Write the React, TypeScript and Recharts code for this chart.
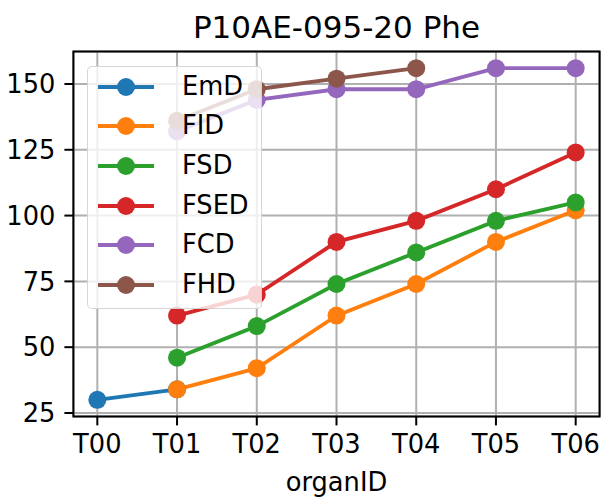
import React from 'react';
import { LineChart, Line, XAxis, YAxis, CartesianGrid, Legend, ReferenceArea, Label } from 'recharts';

const title = 'P10AE-095-20 Phe';
const xLabel = 'organID';
const categories = ['T00', 'T01', 'T02', 'T03', 'T04', 'T05', 'T06'];
const yTicks = [25, 50, 75, 100, 125, 150];

const emD = [30, 34, null, null, null, null, null];
const fID = [null, 34, 42, 62, 74, 90, 102];
const fSD = [null, 46, 58, 74, 86, 98, 105];
const fSED = [null, 62, 70, 90, 98, 110, 124];
const fCD = [null, 132, 144, 148, 148, 156, 156];
const fHD = [null, 136, 148, 152, 156, null, null];

const seriesNames = ['EmD', 'FID', 'FSD', 'FSED', 'FCD', 'FHD'];
const seriesValues = [emD, fID, fSD, fSED, fCD, fHD];
const seriesColors = ['#1f77b4', '#ff7f0e', '#2ca02c', '#d62728', '#9467bd', '#8c564b'];

const data = categories.map((c, i) => {
  const row: Record<string, any> = { x: i, cat: c };
  seriesNames.forEach((n, k) => {
    row[n] = seriesValues[k][i];
  });
  return row;
});

const FONT = '"DejaVu Sans", sans-serif';
const yMin = 23.7;
const yMax = 162.3;

const LegendBox = () => (
  <div
    style={{
      width: 175,
      height: 243,
      boxSizing: 'border-box',
      background: 'rgba(255,255,255,0.8)',
      border: '1.5px solid rgba(204,204,204,0.8)',
      borderRadius: 5,
      position: 'relative',
    }}
  >
    {seriesNames.map((n, k) => (
      <div key={n} style={{ position: 'absolute', left: 0, top: 19.5 + k * 39.7 - 20, height: 40, width: 175 }}>
        <svg width={70} height={40} style={{ position: 'absolute', left: 9, top: 0 }}>
          <line x1={1} y1={20} x2={57} y2={20} stroke={seriesColors[k]} strokeWidth={3.85} />
          <circle cx={29} cy={20} r={9} fill={seriesColors[k]} />
        </svg>
        <span
          style={{
            position: 'absolute',
            left: 94,
            top: 20,
            transform: 'translateY(-50%)',
            fontFamily: FONT,
            fontSize: 25.7,
            lineHeight: 1,
            color: '#000',
            whiteSpace: 'nowrap',
          }}
        >
          {n}
        </span>
      </div>
    ))}
  </div>
);

export default function App() {
  return (
    <div style={{ position: 'absolute', left: 0, top: 0, width: 611, height: 502, background: '#fff' }}>
      <svg width={611} height={50} style={{ position: 'absolute', left: 0, top: 0 }}>
        <text x={336.5} y={37.5} textAnchor="middle" fontFamily={FONT} fontSize={31} fill="#000">
          {title}
        </text>
      </svg>
      <div style={{ position: 'absolute', left: 0, top: 0 }}>
        <LineChart width={611} height={502} data={data} margin={{ top: 51.6, right: 11.4, left: 0, bottom: 0 }}>
          <CartesianGrid stroke="#b0b0b0" strokeWidth={2} />
          <XAxis
            dataKey="x"
            type="number"
            domain={[-0.3, 6.3]}
            ticks={[0, 1, 2, 3, 4, 5, 6]}
            tickFormatter={(v: number) => categories[v]}
            height={85.6}
            axisLine={false}
            tickSize={9}
            tickMargin={9}
            tickLine={{ stroke: '#000', strokeWidth: 2 }}
            tick={{ fill: '#000', fontFamily: FONT, fontSize: 25.7 }}
            interval={0}
          >
            <Label
              content={(props: any) => {
                const vb = props.viewBox || {};
                return (
                  <text
                    x={vb.x + vb.width / 2}
                    y={vb.y + 75}
                    textAnchor="middle"
                    fontFamily={FONT}
                    fontSize={25.7}
                    fill="#000"
                  >
                    {xLabel}
                  </text>
                );
              }}
            />
          </XAxis>
          <YAxis
            type="number"
            domain={[yMin, yMax]}
            ticks={yTicks}
            width={73.4}
            axisLine={false}
            tickSize={9}
            tickMargin={9}
            tickLine={{ stroke: '#000', strokeWidth: 2 }}
            tick={{ fill: '#000', fontFamily: FONT, fontSize: 25.7 }}
            interval={0}
          />
          {seriesNames.map((n, k) => (
            <Line
              key={n}
              dataKey={n}
              name={n}
              type="linear"
              stroke={seriesColors[k]}
              strokeWidth={3.85}
              dot={{ r: 9, fill: seriesColors[k], stroke: seriesColors[k], strokeWidth: 0 }}
              activeDot={false}
              isAnimationActive={false}
              connectNulls={false}
            />
          ))}
          <ReferenceArea
            x1={-0.3}
            x2={6.3}
            y1={yMin}
            y2={yMax}
            fill="none"
            fillOpacity={0}
            stroke="#000"
            strokeWidth={2}
            ifOverflow="visible"
          />
          <Legend
            layout="vertical"
            align="center"
            verticalAlign="middle"
            content={() => <LegendBox />}
            wrapperStyle={{ position: 'absolute', left: 87, top: 66, width: 175, height: 243 }}
          />
        </LineChart>
      </div>
    </div>
  );
}
